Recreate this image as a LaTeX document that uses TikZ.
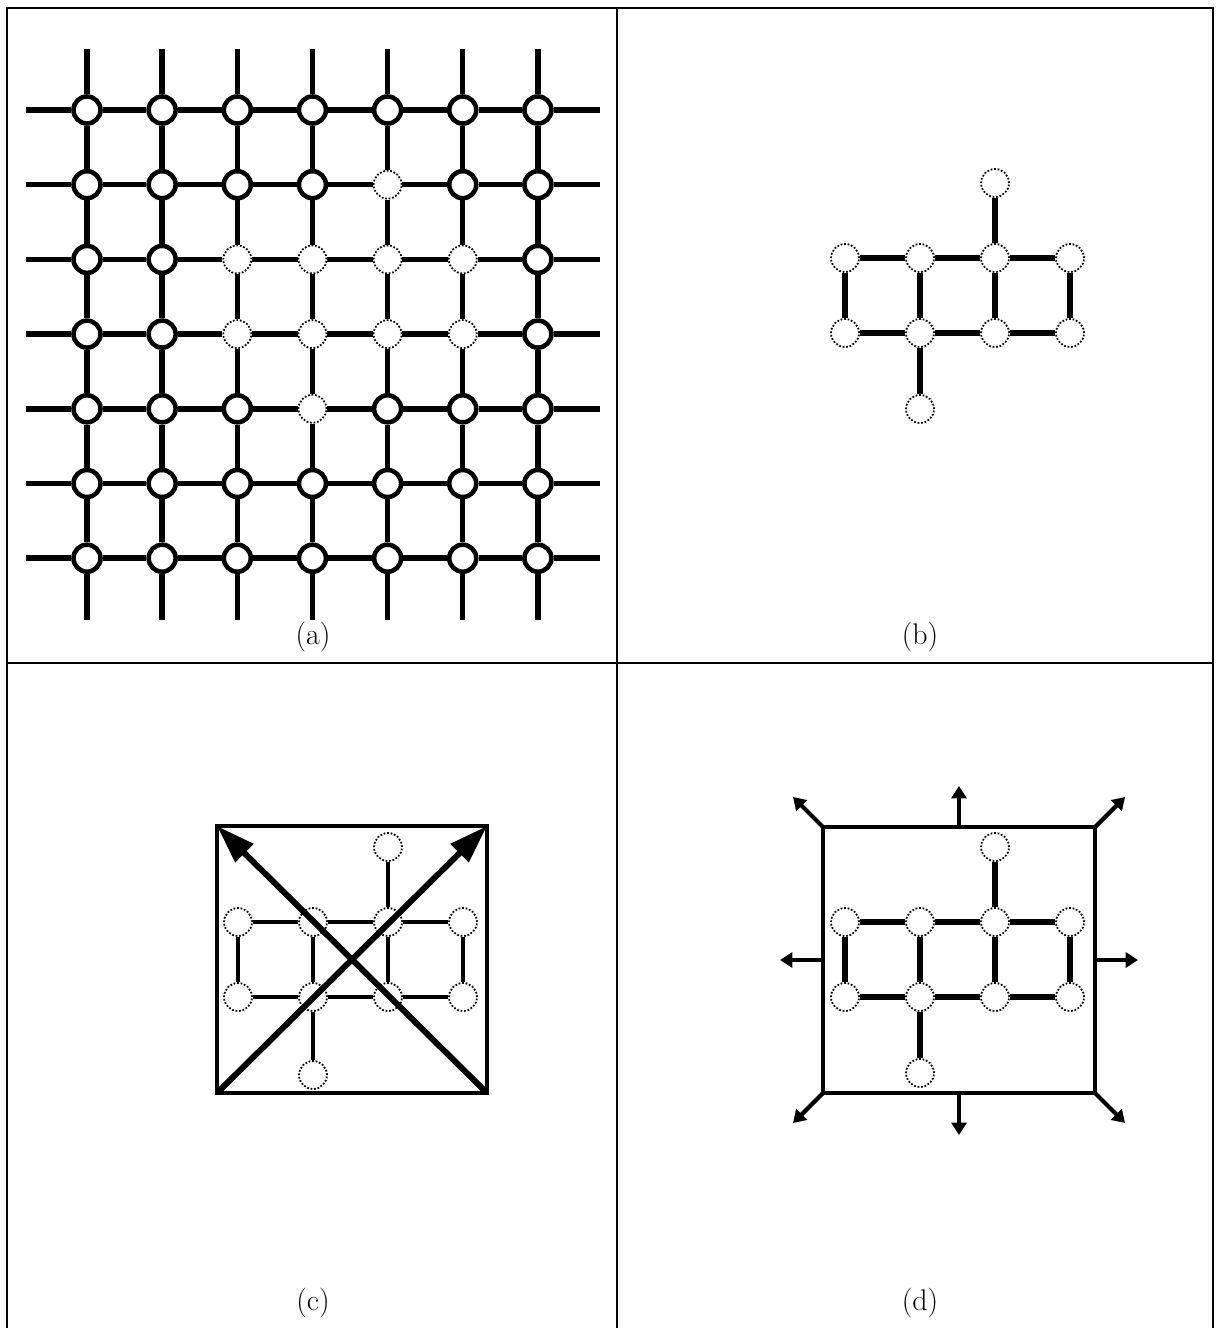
\documentclass[tikz,border=0pt]{standalone}
\usetikzlibrary{arrows.meta}
\begin{document}
\begin{tikzpicture}[x=0.02cm,y=-0.02cm,
  solidnode/.style={circle,draw,line width=2.6pt,fill=white,minimum size=0.54cm,inner sep=0pt},
  dotnode/.style={circle,draw,densely dotted,line width=1pt,fill=white,minimum size=0.56cm,inner sep=0pt},
  gedge/.style={line width=3.1pt},
  cedge/.style={line width=2.7pt},
  boxline/.style={line width=2.6pt},
  frameline/.style={line width=1.1pt},
  bigarrow/.style={line width=3.4pt,-{Triangle[length=22pt,width=14pt]}},
  smallarrow/.style={line width=2.4pt,-{Triangle[length=7pt,width=8.5pt]}},
  lbl/.style={font=\fontsize{17}{20}\selectfont,inner sep=0pt}
]
\useasboundingbox (0,0) rectangle (1215,1328);
% frame
\draw[frameline] (7,1328) -- (7,8) -- (1213,8) -- (1213,1328);
\draw[frameline] (617,8) -- (617,1328);
\draw[frameline] (7,663) -- (1213,663);

% ---------- (a) ----------
\foreach \p in {5-2,3-3,4-3,5-3,6-3,3-4,4-4,5-4,6-4,4-5}{\expandafter\gdef\csname dotx\p\endcsname{1}}
\foreach \i in {1,...,7}{
  \foreach \j in {1,...,7}{
    \pgfmathsetmacro\xx{87+75.15*(\i-1)}
    \pgfmathsetmacro\yy{110+74.7*(\j-1)}
    \ifcsname dotx\i-\j\endcsname
      \node[dotnode] (a-\i-\j) at (\xx,\yy) {};
    \else
      \node[solidnode] (a-\i-\j) at (\xx,\yy) {};
    \fi
  }
}
\foreach \k in {1,...,7}{
  \pgfmathsetmacro\xx{87+75.15*(\k-1)}
  \pgfmathsetmacro\yy{110+74.7*(\k-1)}
  \coordinate (aL-\k) at (26,\yy);
  \coordinate (aR-\k) at (600,\yy);
  \coordinate (aT-\k) at (\xx,49);
  \coordinate (aB-\k) at (\xx,620);
  \draw[gedge] (aL-\k) -- (a-1-\k);
  \draw[gedge] (a-7-\k) -- (aR-\k);
  \draw[gedge] (aT-\k) -- (a-\k-1);
  \draw[gedge] (a-\k-7) -- (aB-\k);
}
\foreach \i in {1,...,6}{
  \pgfmathtruncatemacro\n{\i+1}
  \foreach \j in {1,...,7}{
    \draw[gedge] (a-\i-\j) -- (a-\n-\j);
    \draw[gedge] (a-\j-\i) -- (a-\j-\n);
  }
}
\node[lbl] (la) at (313,637) {(a)};

% ---------- (b) ----------
\node[dotnode] (b1) at (845,258) {};
\node[dotnode] (b2) at (920,258) {};
\node[dotnode] (b3) at (995,258) {};
\node[dotnode] (b4) at (1070,258) {};
\node[dotnode] (b5) at (845,333) {};
\node[dotnode] (b6) at (920,333) {};
\node[dotnode] (b7) at (995,333) {};
\node[dotnode] (b8) at (1070,333) {};
\node[dotnode] (bt) at (995,183) {};
\node[dotnode] (bb) at (920,409) {};
\foreach \u/\v in {b1/b2,b2/b3,b3/b4,b5/b6,b6/b7,b7/b8,b1/b5,b2/b6,b3/b7,b4/b8,bt/b3,b6/bb}
  \draw[gedge] (\u) -- (\v);
\node[lbl] (lb) at (920,637) {(b)};

% ---------- (c) ----------
\coordinate (ctl) at (217,826);
\coordinate (ctr) at (487,826);
\coordinate (cbl) at (217,1093);
\coordinate (cbr) at (487,1093);
\draw[boxline,line join=miter] (ctl) -- (ctr) -- (cbr) -- (cbl) -- cycle;
\node[dotnode] (c1) at (238,922) {};
\node[dotnode] (c2) at (313,922) {};
\node[dotnode] (c3) at (388,922) {};
\node[dotnode] (c4) at (463,922) {};
\node[dotnode] (c5) at (238,997) {};
\node[dotnode] (c6) at (313,997) {};
\node[dotnode] (c7) at (388,997) {};
\node[dotnode] (c8) at (463,997) {};
\node[dotnode] (ct) at (388,847) {};
\node[dotnode] (cb) at (313,1075) {};
\foreach \u/\v in {c1/c2,c2/c3,c3/c4,c5/c6,c6/c7,c7/c8,c1/c5,c2/c6,c3/c7,c4/c8,ct/c3,c6/cb}
  \draw[cedge] (\u) -- (\v);
\draw[bigarrow] (cbl) -- (ctr);
\draw[bigarrow] (cbr) -- (ctl);
\node[lbl] (lc) at (313,1303) {(c)};

% ---------- (d) ----------
\coordinate (dtl) at (823,827);
\coordinate (dtr) at (1095,827);
\coordinate (dbl) at (823,1093);
\coordinate (dbr) at (1095,1093);
\coordinate (dt) at (959,827);
\coordinate (db) at (959,1093);
\coordinate (dl) at (823,960);
\coordinate (dr) at (1095,960);
\draw[boxline,line join=miter] (dtl) -- (dtr) -- (dbr) -- (dbl) -- cycle;
\node[dotnode] (d1) at (845,922) {};
\node[dotnode] (d2) at (920,922) {};
\node[dotnode] (d3) at (995,922) {};
\node[dotnode] (d4) at (1070,922) {};
\node[dotnode] (d5) at (845,997) {};
\node[dotnode] (d6) at (920,997) {};
\node[dotnode] (d7) at (995,997) {};
\node[dotnode] (d8) at (1070,997) {};
\node[dotnode] (dtn) at (995,847) {};
\node[dotnode] (dbn) at (920,1073) {};
\foreach \u/\v in {d1/d2,d2/d3,d3/d4,d5/d6,d6/d7,d7/d8,d1/d5,d2/d6,d3/d7,d4/d8,dtn/d3,d6/dbn}
  \draw[gedge] (\u) -- (\v);
\coordinate (etl) at (793,797);
\coordinate (etr) at (1125,797);
\coordinate (ebl) at (793,1123);
\coordinate (ebr) at (1125,1123);
\coordinate (et) at (959,786);
\coordinate (eb) at (959,1135);
\coordinate (el) at (780,960);
\coordinate (er) at (1138,960);
\foreach \u/\v in {dtl/etl,dtr/etr,dbl/ebl,dbr/ebr,dt/et,db/eb,dl/el,dr/er}
  \draw[smallarrow] (\u) -- (\v);
\node[lbl] (ld) at (920,1303) {(d)};
\end{tikzpicture}
\end{document}
